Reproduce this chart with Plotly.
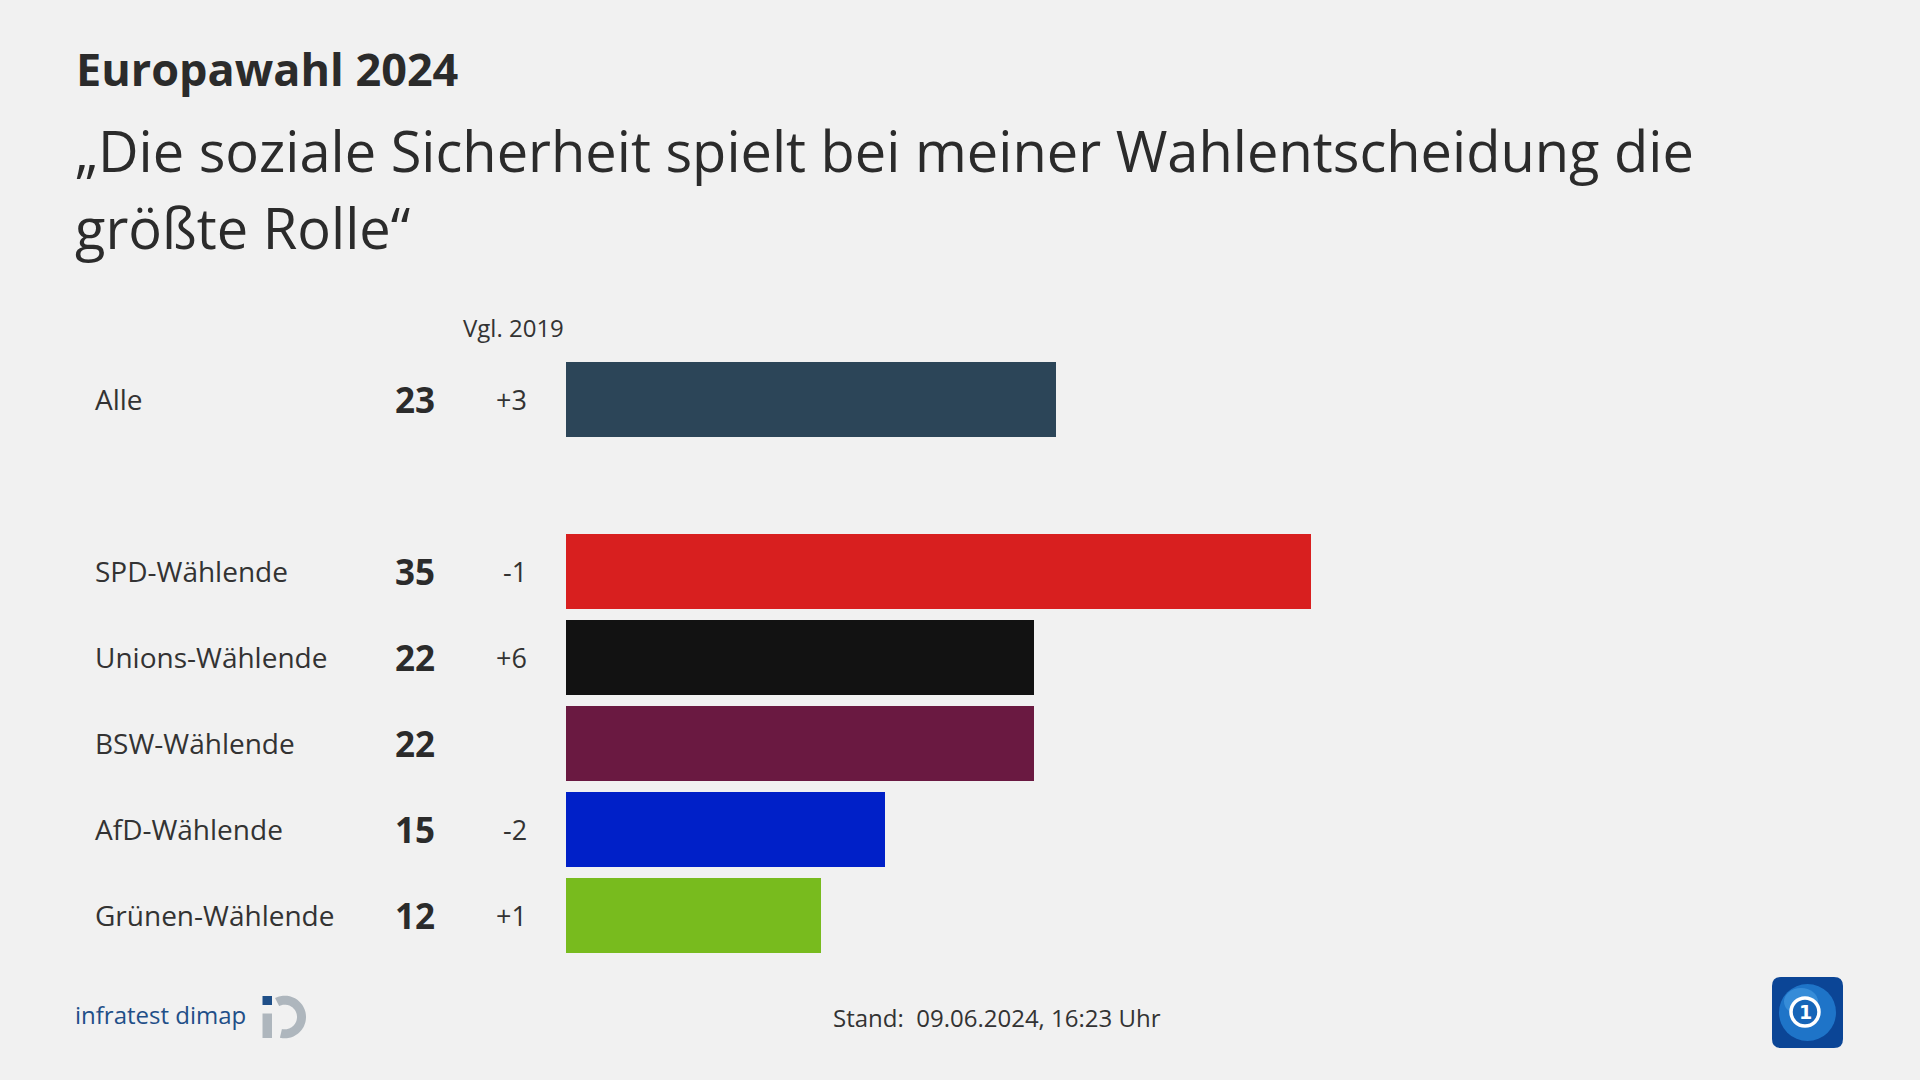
import numpy as np
import plotly.graph_objects as go

# ---------------- data ----------------
categories = ["Alle", "SPD-Wählende", "Unions-Wählende", "BSW-Wählende", "AfD-Wählende", "Grünen-Wählende"]
values = [23, 35, 22, 22, 15, 12]
changes = ["+3", "-1", "+6", "", "-2", "+1"]
colors = ["#2c4558", "#d81f1f", "#121212", "#6a1941", "#0020c8", "#78bb1e"]

title = "Europawahl 2024"
subtitle_lines = ["„Die soziale Sicherheit spielt bei meiner Wahlentscheidung die", "größte Rolle“"]
compare_label = "Vgl. 2019"
footer = "Stand:  09.06.2024, 16:23 Uhr"
source = "infratest dimap"

# ---------------- layout geometry (pixels) ----------------
FW, FH = 1920, 1080
L, T, W, H = 566, 356, 1277, 602
XMAX = 60
BG = "#f1f1f1"
TXT = "#333333"
FONT = "Open Sans"

def px(xp):
    return (xp - L) / W

def py(yp):
    return (T + H - yp) / H

# row positions: empty slot after the first row ("Alle")
positions = [i if i == 0 else i + 1 for i in range(len(categories))]

fig = go.Figure()
fig.add_trace(go.Bar(
    x=values, y=positions, orientation="h", width=0.872,
    marker=dict(color=colors, line=dict(width=0)),
    hoverinfo="skip", showlegend=False,
))

ann = []
# title + subtitle
ann.append(dict(text=f"<b>{title}</b>", x=px(74), y=py(68), xref="paper", yref="paper",
                xanchor="left", yanchor="middle", showarrow=False,
                font=dict(family=FONT, size=45, color="#2b2b2b")))
for i, line in enumerate(subtitle_lines):
    ann.append(dict(text=line, x=px(73), y=py(150 + i * 77), xref="paper", yref="paper",
                    xanchor="left", yanchor="middle", showarrow=False,
                    font=dict(family=FONT, size=56, color="#2b2b2b")))
# column header
ann.append(dict(text=compare_label, x=px(566), y=py(328), xref="paper", yref="paper",
                xanchor="right", yanchor="middle", showarrow=False,
                font=dict(family=FONT, size=24, color=TXT)))
# row labels / values / changes
for cat, val, ch, pos in zip(categories, values, changes, positions):
    ann.append(dict(text=cat, x=px(93), y=pos, xref="paper", yref="y",
                    xanchor="left", yanchor="middle", showarrow=False,
                    font=dict(family=FONT, size=28, color=TXT)))
    ann.append(dict(text=f"<b>{val}</b>", x=px(437), y=pos, xref="paper", yref="y",
                    xanchor="right", yanchor="middle", showarrow=False,
                    font=dict(family=FONT, size=35, color="#2b2b2b")))
    if ch:
        ann.append(dict(text=ch, x=px(529), y=pos, xref="paper", yref="y",
                        xanchor="right", yanchor="middle", showarrow=False,
                        font=dict(family=FONT, size=27, color=TXT)))
# footer
ann.append(dict(text=footer, x=px(997), y=py(1017), xref="paper", yref="paper",
                xanchor="center", yanchor="middle", showarrow=False,
                font=dict(family=FONT, size=24, color=TXT)))
ann.append(dict(text=source, x=px(73), y=py(1014), xref="paper", yref="paper",
                xanchor="left", yanchor="middle", showarrow=False,
                font=dict(family=FONT, size=24, color="#1f4f88")))

shapes = []
# infratest dimap icon: gray ring with gap, bar and blue square
cx, cy, ro, ri = 284.7, 1017.0, 21.3, 12.3
ang = np.radians(np.linspace(117, -103, 60))
outer = [(cx + ro * np.cos(a), cy - ro * np.sin(a)) for a in ang]
inner = [(cx + ri * np.cos(a), cy - ri * np.sin(a)) for a in ang[::-1]]
pts = outer + inner
path = "M " + " L ".join(f"{px(a):.5f},{py(b):.5f}" for a, b in pts) + " Z"
shapes.append(dict(type="path", path=path, xref="paper", yref="paper",
                   fillcolor="#aeb6bd", line=dict(width=0)))
shapes.append(dict(type="rect", x0=px(262.5), x1=px(272), y0=py(1038), y1=py(1013.5),
                   xref="paper", yref="paper", fillcolor="#aeb6bd", line=dict(width=0)))
shapes.append(dict(type="rect", x0=px(262.5), x1=px(272), y0=py(1005), y1=py(996),
                   xref="paper", yref="paper", fillcolor="#1f4f88", line=dict(width=0)))

# tagesschau logo: rounded square, globe, ring with "1"
x0, x1, y0, y1, r = 1772, 1843, 977, 1048, 9
rr = (f"M {px(x0 + r)},{py(y0)} L {px(x1 - r)},{py(y0)} Q {px(x1)},{py(y0)} {px(x1)},{py(y0 + r)} "
      f"L {px(x1)},{py(y1 - r)} Q {px(x1)},{py(y1)} {px(x1 - r)},{py(y1)} "
      f"L {px(x0 + r)},{py(y1)} Q {px(x0)},{py(y1)} {px(x0)},{py(y1 - r)} "
      f"L {px(x0)},{py(y0 + r)} Q {px(x0)},{py(y0)} {px(x0 + r)},{py(y0)} Z")
shapes.append(dict(type="path", path=rr, xref="paper", yref="paper",
                   fillcolor="#0b4596", line=dict(width=0)))
shapes.append(dict(type="circle", x0=px(1779), x1=px(1836), y0=py(984), y1=py(1041),
                   xref="paper", yref="paper", fillcolor="#1e74c8", line=dict(width=0)))
shapes.append(dict(type="circle", x0=px(1784), x1=px(1818), y0=py(988), y1=py(1015),
                   xref="paper", yref="paper", fillcolor="#4aa0e6", opacity=0.55, line=dict(width=0)))
shapes.append(dict(type="circle", x0=px(1791), x1=px(1819), y0=py(998), y1=py(1026),
                   xref="paper", yref="paper", fillcolor="#1665b8", line=dict(color="white", width=3.5)))
ann.append(dict(text="<b>1</b>", x=px(1805.5), y=py(1012), xref="paper", yref="paper",
                xanchor="center", yanchor="middle", showarrow=False,
                font=dict(family="DejaVu Sans", size=19, color="white")))

fig.update_layout(
    width=FW, height=FH, autosize=False,
    margin=dict(l=L, r=FW - L - W, t=T, b=FH - T - H, pad=0),
    paper_bgcolor=BG, plot_bgcolor=BG,
    xaxis=dict(range=[0, XMAX], visible=False, fixedrange=True),
    yaxis=dict(range=[6.5, -0.5], visible=False, fixedrange=True),
    annotations=ann, shapes=shapes, bargap=0, showlegend=False,
)

fig.write_html("out.html", config={"displayModeBar": False},
               post_script="document.body.style.margin='0';document.body.style.overflow='hidden';")
